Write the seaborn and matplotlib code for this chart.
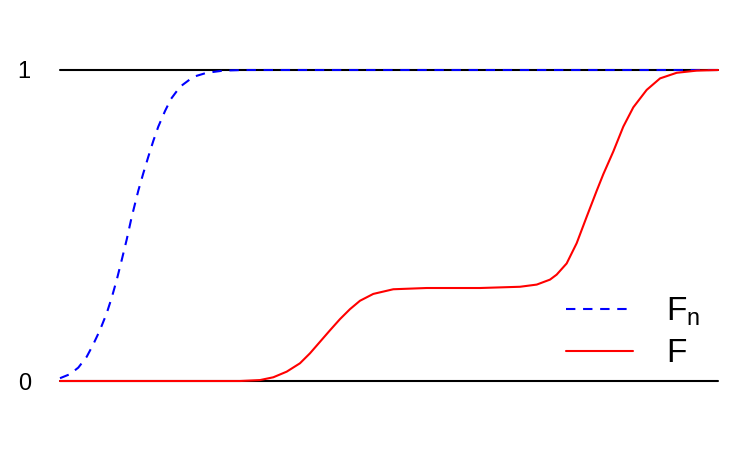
import pandas as pd
import seaborn as sns
import matplotlib.pyplot as plt

# values (x on a 0-10 scale)
fn_x = [0, 0.152, 0.278, 0.406, 0.506, 0.608, 0.710, 0.786, 0.862, 0.938, 1.014,
        1.087, 1.140, 1.190, 1.266, 1.342, 1.418, 1.494, 1.596, 1.687, 1.824,
        2.026, 2.229, 2.482, 2.781, 10]
fn_y = [0.009, 0.022, 0.043, 0.078, 0.118, 0.164, 0.218, 0.268, 0.325, 0.389, 0.455,
        0.525, 0.570, 0.612, 0.668, 0.721, 0.772, 0.818, 0.868, 0.907, 0.946,
        0.978, 0.991, 0.998, 1.0, 1.0]

f_x = [0, 2.736, 3.040, 3.242, 3.445, 3.647, 3.799, 3.951, 4.103, 4.255, 4.407,
       4.559, 4.761, 5.065, 5.573, 6.383, 6.991, 7.245, 7.447, 7.548, 7.700,
       7.852, 8.004, 8.157, 8.257, 8.409, 8.561, 8.713, 8.916, 9.119, 9.372,
       9.676, 10]
f_y = [0, 0, 0.003, 0.012, 0.030, 0.057, 0.089, 0.126, 0.163, 0.199, 0.231,
       0.258, 0.280, 0.295, 0.299, 0.299, 0.303, 0.310, 0.326, 0.342, 0.378,
       0.443, 0.528, 0.612, 0.665, 0.738, 0.818, 0.880, 0.936, 0.973, 0.991,
       0.998, 1.0]

series_names = ['Fn', 'F']
legend_labels = ['$F_n$', '$F$']
tick_values = [0, 1]
tick_labels = ['0', '1']

sns.set_style('white')
plt.rcParams['font.family'] = ['Liberation Sans', 'DejaVu Sans']
plt.rcParams['mathtext.fontset'] = 'custom'
plt.rcParams['mathtext.rm'] = 'Liberation Sans'
plt.rcParams['mathtext.it'] = 'Liberation Sans'
plt.rcParams['text.color'] = 'black'
plt.rcParams['ytick.color'] = 'black'
plt.rcParams['ytick.labelcolor'] = 'black'

df = pd.concat([
    pd.DataFrame({'x': fn_x, 'y': fn_y, 'curve': 'Fn'}),
    pd.DataFrame({'x': f_x, 'y': f_y, 'curve': 'F'}),
])

fig = plt.figure(figsize=(7.5, 4.68), dpi=100)
ax = fig.add_axes([60 / 750, (468 - 381) / 468, 658 / 750, 311 / 468])

# reference lines at 0 and 1
for v in tick_values:
    ax.axhline(v, color='black', lw=1.5, zorder=1, clip_on=False)

sns.lineplot(
    data=df, x='x', y='y', hue='curve', style='curve',
    hue_order=series_names, style_order=series_names,
    palette={'Fn': 'blue', 'F': 'red'},
    dashes={'Fn': (4.5, 3.7), 'F': ''},
    estimator=None, sort=False, lw=1.5, ax=ax, zorder=3,
)
for line in ax.get_lines():
    line.set_clip_on(False)
    line.set_solid_joinstyle('round')
    line.set_dash_joinstyle('round')

ax.set_xlim(0, 10)
ax.set_ylim(0, 1)
ax.set_xticks([])
ax.set_yticks(tick_values)
ax.set_yticklabels(tick_labels, fontsize=17, color='black')
ax.tick_params(axis='y', length=0, pad=21)
ax.set_xlabel('')
ax.set_ylabel('')
sns.despine(ax=ax, left=True, bottom=True)

handles, _ = ax.get_legend_handles_labels()
leg = ax.legend(
    handles[-2:], legend_labels, loc='upper left',
    bbox_to_anchor=(566 / 750, 1 - 296 / 468), bbox_transform=fig.transFigure,
    frameon=False, fontsize=24, handlelength=2.0, handletextpad=1.0,
    labelspacing=0.3, borderpad=0, borderaxespad=0,
)
for t in leg.get_texts():
    t.set_color('black')

fig.savefig('out.png', dpi=100)
